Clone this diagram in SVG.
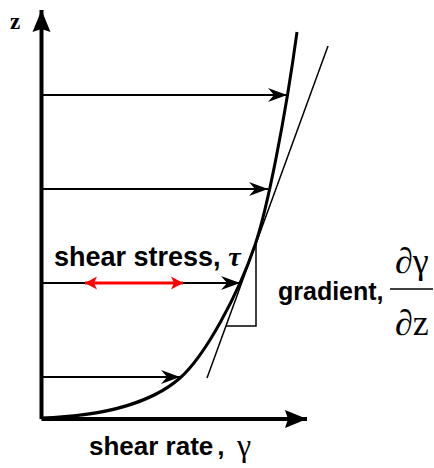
<svg xmlns="http://www.w3.org/2000/svg" width="434" height="468" viewBox="0 0 434 468">
<style>
.axis{stroke:#000;stroke-width:4;fill:none}
.flow{stroke:#000;stroke-width:2;fill:none}
.thin{stroke:#000;stroke-width:1.5;fill:none}
.curve{stroke:#000;stroke-width:3;fill:none}
.red{stroke:#ff0000;stroke-width:3;fill:none}
.lbl{font-family:"Liberation Sans",Arial,sans-serif;font-weight:bold;fill:#000}
.math{font-family:"Liberation Serif","Times New Roman",serif;fill:#000}
</style>
<defs>
<marker id="axhead" markerUnits="userSpaceOnUse" viewBox="-24 -11 26 22" markerWidth="26" markerHeight="22" refX="0" refY="0" orient="auto">
<path d="M0,0 L-22,-9 L-19,0 L-22,9 Z" fill="#000"/>
</marker>
<marker id="head" markerUnits="userSpaceOnUse" viewBox="-20 -8 22 16" markerWidth="22" markerHeight="16" refX="0" refY="0" orient="auto">
<path d="M0,0 L-19,-7 L-13,0 L-19,7 Z" fill="#000"/>
</marker>
<marker id="redhead" markerUnits="userSpaceOnUse" viewBox="-14 -8 16 16" markerWidth="16" markerHeight="16" refX="0" refY="0" orient="auto-start-reverse">
<path d="M0,0 L-12,-6.5 L-9,0 L-12,6.5 Z" fill="#ff0000"/>
</marker>
</defs>
<g id="axes">
<line class="axis" x1="41.5" y1="419" x2="41.5" y2="10" marker-end="url(#axhead)"/>
<line class="axis" x1="41.5" y1="419" x2="307" y2="419" marker-end="url(#axhead)"/>
</g>
<g id="connectors">
<line class="flow" x1="41.5" y1="95" x2="287" y2="95" marker-end="url(#head)"/>
<line class="flow" x1="41.5" y1="189" x2="268" y2="189" marker-end="url(#head)"/>
<line class="flow" x1="41.5" y1="283" x2="240" y2="283" marker-end="url(#head)"/>
<line class="flow" x1="41.5" y1="377" x2="180" y2="377" marker-end="url(#head)"/>
<line class="red" x1="85" y1="283" x2="183" y2="283" marker-start="url(#redhead)" marker-end="url(#redhead)"/>
</g>
<g id="profile">
<path class="curve" d="M41,418 C110,416 155,400 180,378 C205,356 238,295 255,245 C267,210 285,120 297,32"/>
<line class="thin" x1="207" y1="378" x2="328" y2="46"/>
<polyline class="thin" points="226,326 256,326 256,242"/>
</g>
<g id="labels">
<text class="math" x="10" y="29" font-size="23" font-weight="bold">z</text>
<text class="lbl" x="54" y="266" font-size="27">shear stress, <tspan class="math" font-style="italic" font-size="28">τ</tspan></text>
<text class="lbl" x="278" y="300" font-size="25">gradient,</text>
<text class="math" x="395" y="273" font-size="36">∂γ</text>
<line class="thin" x1="390" y1="289" x2="433" y2="289"/>
<text class="math" x="395" y="335" font-size="36">∂z</text>
<text class="lbl" x="89" y="455" font-size="26">shear rate<tspan dx="4">,</tspan></text>
<text class="math" x="237" y="456" font-size="32">γ</text>
</g>
</svg>
